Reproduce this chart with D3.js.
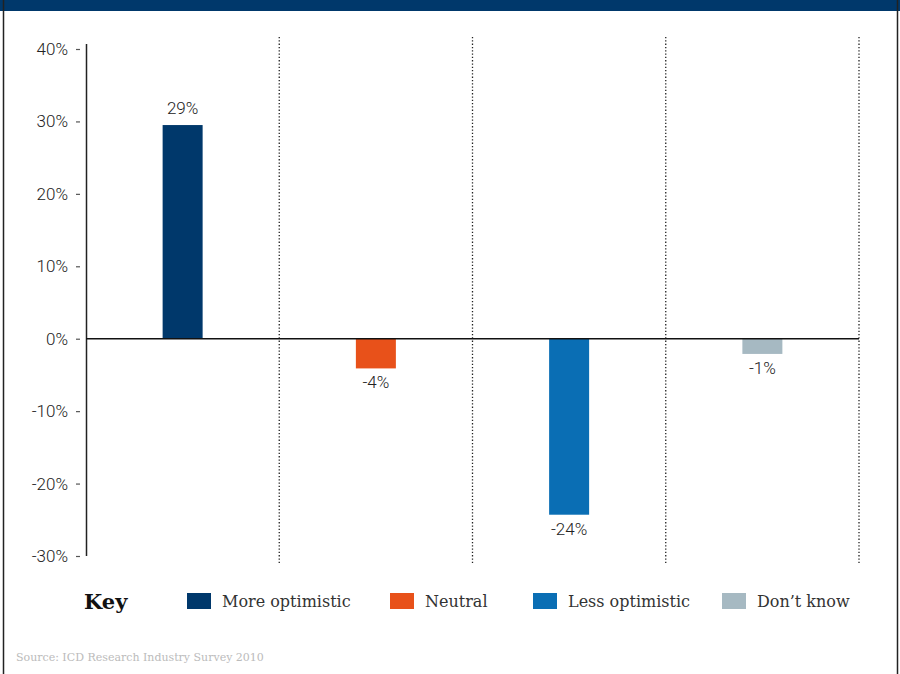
<!DOCTYPE html>
<html>
<head>
<meta charset="utf-8">
<script src="https://cdn.jsdelivr.net/npm/d3@7"></script>
<style>
  body { margin: 0; background: #fff; }
  .tick text { font-family: Roboto, "Liberation Sans", Arial, sans-serif; font-weight: 300; }
</style>
</head>
<body>
<div id="chart"></div>
<script>
// Chart data
const categories = ["More optimistic", "Neutral", "Less optimistic", "Don't know"];
const values = [29.5, -4.1, -24.3, -2.1];
const valueLabels = ["29%", "-4%", "-24%", "-1%"];
const colors = ["#00386b", "#e8511a", "#0a6eb4", "#a6b9c2"];
const yTicks = [40, 30, 20, 10, 0, -10, -20, -30];
const legendLabels = ["More optimistic", "Neutral", "Less optimistic", "Don\u2019t know"];
const source = "Source: ICD Research Industry Survey 2010";

const W = 900, H = 674;
const margin = { top: 49, left: 86, right: 41, bottom: 118 };
const width = W - margin.left - margin.right,
      height = H - margin.top - margin.bottom;

const root = d3.select("#chart").append("svg")
    .attr("width", W)
    .attr("height", H);

// top band and frame
root.append("rect").attr("x", 0).attr("y", 0).attr("width", W).attr("height", 11).attr("fill", "#00386b");
root.append("line").attr("x1", 3.5).attr("x2", 3.5).attr("y1", 0).attr("y2", H).attr("stroke", "#222").attr("stroke-width", 1.5);
root.append("line").attr("x1", 897.5).attr("x2", 897.5).attr("y1", 0).attr("y2", H).attr("stroke", "#222").attr("stroke-width", 1.5);

const svg = root.append("g")
    .attr("transform", `translate(${margin.left},${margin.top})`);

const x = d3.scaleBand()
    .domain(categories)
    .range([0, width])
    .paddingInner(0)
    .paddingOuter(0);

const y = d3.scaleLinear()
    .domain([-30, 40])
    .range([height, 0]);

// dotted separators at the right edge of each band
svg.selectAll("line.sep")
    .data(categories)
    .join("line")
    .attr("class", "sep")
    .attr("x1", d => x(d) + x.bandwidth())
    .attr("x2", d => x(d) + x.bandwidth())
    .attr("y1", y(40) - 12)
    .attr("y2", y(-30) + 7)
    .attr("stroke", "#222")
    .attr("stroke-width", 1.3)
    .attr("stroke-dasharray", "1.3,2");

// y axis
const yAxis = svg.append("g")
    .call(d3.axisLeft(y).tickValues(yTicks).tickFormat(d => d + "%").tickSize(0).tickPadding(18));
yAxis.select(".domain").remove();
yAxis.selectAll(".tick text")
    .attr("font-size", 17)
    .attr("fill", "#222");
yAxis.selectAll(".tick").append("line")
    .attr("x1", -10).attr("x2", -6)
    .attr("stroke", "#555").attr("stroke-width", 1.2);

svg.append("line")
    .attr("x1", 0.5).attr("x2", 0.5)
    .attr("y1", y(40) - 5).attr("y2", y(-30))
    .attr("stroke", "#222").attr("stroke-width", 1.5);

// bars
const barW = 40;
svg.selectAll("rect.bar")
    .data(values)
    .join("rect")
    .attr("class", "bar")
    .attr("x", (d, i) => x(categories[i]) + x.bandwidth() / 2 - barW / 2)
    .attr("y", d => y(Math.max(0, d)))
    .attr("width", barW)
    .attr("height", d => Math.abs(y(d) - y(0)))
    .attr("fill", (d, i) => colors[i]);

// zero line
svg.append("line")
    .attr("x1", 0).attr("x2", width)
    .attr("y1", y(0)).attr("y2", y(0))
    .attr("stroke", "#111").attr("stroke-width", 1.5);

// value labels
svg.selectAll("text.val")
    .data(values)
    .join("text")
    .attr("class", "val")
    .attr("x", (d, i) => x(categories[i]) + x.bandwidth() / 2)
    .attr("y", d => d >= 0 ? y(d) - 11 : y(d) + 20)
    .attr("text-anchor", "middle")
    .attr("font-family", "Roboto, Liberation Sans, Arial, sans-serif")
    .attr("font-weight", 300)
    .attr("font-size", 17)
    .attr("fill", "#222")
    .text((d, i) => valueLabels[i]);

// legend
root.append("text")
    .attr("x", 84).attr("y", 609)
    .attr("font-family", "DejaVu Serif, serif")
    .attr("font-weight", "bold")
    .attr("font-size", 21)
    .attr("fill", "#111")
    .text("Key");

const legendX = [187, 390, 533, 722];
const legend = root.selectAll("g.leg")
    .data(legendLabels)
    .join("g")
    .attr("class", "leg")
    .attr("transform", (d, i) => `translate(${legendX[i]},593)`);

legend.append("rect")
    .attr("width", 24).attr("height", 16)
    .attr("fill", (d, i) => colors[i]);

legend.append("text")
    .attr("x", 35).attr("y", 14)
    .attr("font-family", "DejaVu Serif, serif")
    .attr("font-size", 16)
    .attr("fill", "#333")
    .text(d => d);

// source
root.append("text")
    .attr("x", 16).attr("y", 661)
    .attr("font-family", "DejaVu Serif, serif")
    .attr("font-size", 11)
    .attr("fill", "#bbb")
    .text(source);
</script>
</body>
</html>
